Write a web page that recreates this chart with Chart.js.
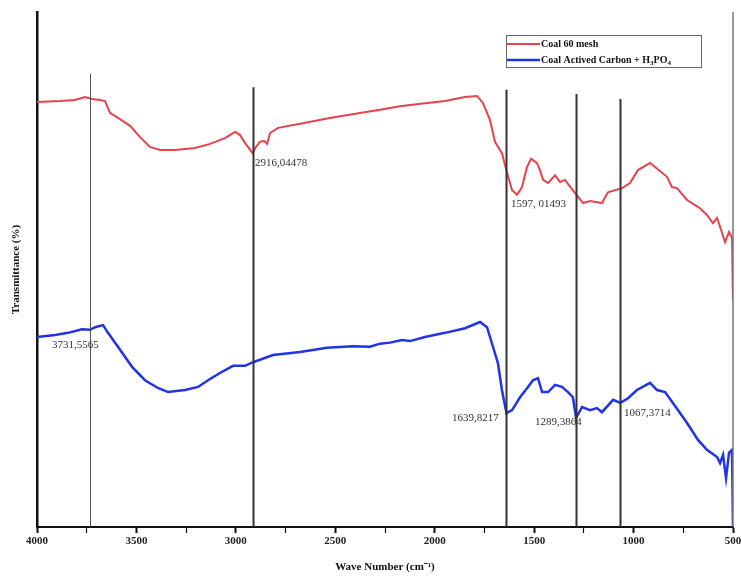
<!DOCTYPE html>
<html>
<head>
<meta charset="utf-8">
<script src="https://cdn.jsdelivr.net/npm/chart.js@4"></script>
<style>
  html, body { margin: 0; padding: 0; background: #fff; }
  #wrap { width: 741px; height: 582px; position: relative; }
</style>
</head>
<body>
<div id="wrap"><canvas id="ftirChart"></canvas></div>

<script>
  // Spektrum FTIR
  var coalWn = [4000, 3884, 3809, 3759, 3723, 3683, 3658, 3633, 3583, 3532, 3482, 3432, 3381, 3306, 3205, 3130,
    3055, 3004, 2979, 2954, 2916, 2899, 2879, 2858, 2843, 2828, 2788, 2677, 2527, 2376, 2275, 2175, 2049, 1948,
    1848, 1787, 1757, 1722, 1697, 1662, 1637, 1611, 1586, 1561, 1536, 1516, 1486, 1471, 1455, 1430, 1395, 1370,
    1345, 1295, 1254, 1219, 1159, 1129, 1058, 1018, 978, 917, 832, 807, 782, 731, 691, 666, 631, 601, 580, 565,
    540, 520, 505, 500];
  var coalT = [82.5, 82.7, 82.9, 83.5, 83.1, 82.9, 82.7, 80.4, 79.2, 77.9, 75.7, 73.8, 73.2, 73.2, 73.6, 74.4,
    75.5, 76.7, 76.1, 74.6, 72.6, 73.8, 74.8, 75.0, 74.4, 76.5, 77.5, 78.3, 79.4, 80.4, 81.0, 81.7, 82.3, 82.7,
    83.5, 83.7, 82.3, 79.0, 74.8, 72.6, 68.9, 65.4, 64.5, 66.0, 69.9, 71.5, 70.7, 69.3, 67.4, 66.8, 68.3, 67.0,
    67.4, 64.9, 62.9, 63.3, 62.9, 65.0, 65.8, 66.8, 69.3, 70.7, 68.0, 66.0, 65.8, 63.5, 62.5, 61.9, 60.6, 59.0,
    60.0, 58.3, 55.3, 57.3, 56.1, 44.1];

  var carbonWn = [4000, 3909, 3844, 3774, 3733, 3708, 3668, 3643, 3593, 3522, 3457, 3392, 3341, 3256, 3190, 3140,
    3080, 3014, 2954, 2914, 2813, 2677, 2542, 2411, 2325, 2275, 2225, 2164, 2124, 2049, 1948, 1848, 1772,
    1737, 1707, 1682, 1662, 1639, 1611, 1571, 1531, 1506, 1481, 1460, 1430, 1395, 1360, 1330, 1305, 1289, 1259,
    1219, 1184, 1159, 1103, 1067, 1028, 983, 917, 882, 842, 802, 731, 676, 631, 580, 565, 550, 535, 520, 505, 500];
  var carbonT = [36.9, 37.3, 37.7, 38.4, 38.3, 38.8, 39.2, 37.7, 35.0, 31.1, 28.5, 27.0, 26.2, 26.6, 27.2, 28.5,
    29.9, 31.3, 31.3, 32.0, 33.4, 34.0, 34.8, 35.1, 35.0, 35.6, 35.8, 36.3, 36.1, 36.9, 37.7, 38.6, 39.8,
    38.8, 35.0, 31.8, 26.6, 22.1, 22.7, 25.2, 27.2, 28.5, 28.9, 26.2, 26.2, 27.6, 27.2, 26.2, 25.2, 21.2, 23.3,
    22.7, 23.1, 22.3, 24.7, 24.1, 25.0, 26.6, 28.0, 26.6, 26.2, 24.1, 20.2, 16.9, 15.0, 13.6, 12.4, 14.0, 9.5,
    14.4, 15.0, 0];

  // garis puncak
  var peakWn = [3731.5565, 2916.04478, 1639.8217, 1289.3864, 1067.3714];
  var peakTop = [88.0, 85.4, 84.9, 84.1, 83.1];

  // label puncak
  var peakText = ['3731,5565', '2916,04478', '1597, 01493', '1639,8217', '1289,3864', '1067,3714'];
  var peakTextWn = [3925, 2904, 1616, 1913, 1496, 1048];
  var peakTextT = [35.3, 70.7, 62.7, 21.2, 20.4, 22.1];

  var xTicks = [4000, 3500, 3000, 2500, 2000, 1500, 1000, 500];

  function toPoints(xs, ys) {
    return xs.map(function (x, i) { return { x: x, y: ys[i] }; });
  }

  var serif = '"Liberation Serif", "Times New Roman", serif';

  var ftirPlugin = {
    id: 'ftirExtras',
    afterDatasetsDraw: function (chart) {
      var ctx = chart.ctx, xs = chart.scales.x, ys = chart.scales.y;
      ctx.save();
      // garis vertikal
      peakWn.forEach(function (wn, i) {
        var px = Math.round(xs.getPixelForValue(wn)) + 0.5;
        ctx.beginPath();
        ctx.strokeStyle = i === 0 ? '#555' : '#333';
        ctx.lineWidth = i === 0 ? 1 : 2;
        ctx.moveTo(px, ys.getPixelForValue(peakTop[i]));
        ctx.lineTo(px, ys.bottom);
        ctx.stroke();
      });
      // sumbu kanan
      ctx.beginPath();
      ctx.strokeStyle = '#777';
      ctx.lineWidth = 1.5;
      ctx.moveTo(xs.right, ys.top);
      ctx.lineTo(xs.right, ys.bottom);
      ctx.stroke();

      // label
      ctx.font = '11px ' + serif;
      ctx.fillStyle = '#333';
      ctx.textAlign = 'left';
      ctx.textBaseline = 'middle';
      peakText.forEach(function (t, i) {
        ctx.fillText(t, xs.getPixelForValue(peakTextWn[i]), ys.getPixelForValue(peakTextT[i]));
      });
      ctx.restore();
    },
    afterDraw: function (chart) {
      var ctx = chart.ctx;
      var ds = chart.data.datasets;
      ctx.save();
      // kotak legenda
      ctx.strokeStyle = '#666';
      ctx.lineWidth = 1;
      ctx.strokeRect(506.5, 35.5, 195, 32);
      var rows = [44, 60];
      ctx.textAlign = 'left';
      ctx.textBaseline = 'middle';
      rows.forEach(function (ry, i) {
        ctx.beginPath();
        ctx.strokeStyle = ds[i].borderColor;
        ctx.lineWidth = ds[i].borderWidth;
        ctx.moveTo(507, ry);
        ctx.lineTo(540, ry);
        ctx.stroke();
      });
      ctx.fillStyle = '#111';
      ctx.font = 'bold 10px ' + serif;
      ctx.fillText(ds[0].label, 541, rows[0]);
      // teks dengan subskrip
      var x = 541, y = rows[1];
      var parts = [['Coal Actived Carbon + H', 0], ['3', 1], ['PO', 0], ['4', 1]];
      parts.forEach(function (p) {
        ctx.font = p[1] ? 'bold 7px ' + serif : 'bold 10px ' + serif;
        ctx.fillText(p[0], x, p[1] ? y + 3 : y);
        x += ctx.measureText(p[0]).width;
      });
      ctx.restore();
    }
  };

  var ctxFtir = document.getElementById('ftirChart').getContext('2d');
  var ftirChart = new Chart(ctxFtir, {
    type: 'line',
    data: {
      datasets: [{
        label: 'Coal 60 mesh',
        data: toPoints(coalWn, coalT),
        borderColor: '#e8434c',
        borderWidth: 2,
        pointRadius: 0,
        tension: 0
      }, {
        label: 'Coal Actived Carbon + H3PO4',
        data: toPoints(carbonWn, carbonT),
        borderColor: '#1f33e8',
        borderWidth: 2.5,
        pointRadius: 0,
        tension: 0
      }]
    },
    options: {
      responsive: true,
      maintainAspectRatio: false,
      animation: false,
      layout: { padding: { top: 12, right: 8, left: 0, bottom: 0 } },
      plugins: {
        legend: { display: false },
        tooltip: { enabled: false }
      },
      scales: {
        x: {
          type: 'linear',
          reverse: true,
          min: 500,
          max: 4000,
          afterFit: function (scale) {
            scale.height = 55;
            scale.paddingLeft = 0;
            scale.paddingRight = 0;
          },
          afterBuildTicks: function (scale) {
            var t = [];
            for (var v = 4000; v >= 500; v -= 250) t.push({ value: v });
            scale.ticks = t;
          },
          ticks: {
            autoSkip: false,
            maxRotation: 0,
            padding: 2,
            color: '#222',
            font: { family: serif, size: 11, weight: 'bold' },
            callback: function (v) { return xTicks.indexOf(v) >= 0 ? v : ''; }
          },
          grid: {
            drawOnChartArea: false, drawTicks: true, tickLength: 6, tickColor: '#111',
            tickWidth: function (c) { return c.tick && xTicks.indexOf(c.tick.value) >= 0 ? 2 : 1.2; }
          },
          border: { display: true, color: '#111', width: 2 },
          title: {
            display: true,
            text: 'Wave Number (cm\u207B\u00B9)',
            color: '#111',
            font: { family: serif, size: 11, weight: 'bold' },
            padding: { top: 0, bottom: 8 }
          }
        },
        y: {
          min: 0,
          max: 100,
          afterFit: function (scale) { scale.width = 37; },
          ticks: { display: false },
          grid: { drawOnChartArea: false, drawTicks: false },
          border: { display: true, color: '#111', width: 2.5 },
          title: {
            display: true,
            text: 'Transmittance (%)',
            color: '#111',
            font: { family: serif, size: 11, weight: 'bold' },
            padding: { top: 10, bottom: 0 }
          }
        }
      }
    },
    plugins: [ftirPlugin]
  });
</script>
</body>
</html>
